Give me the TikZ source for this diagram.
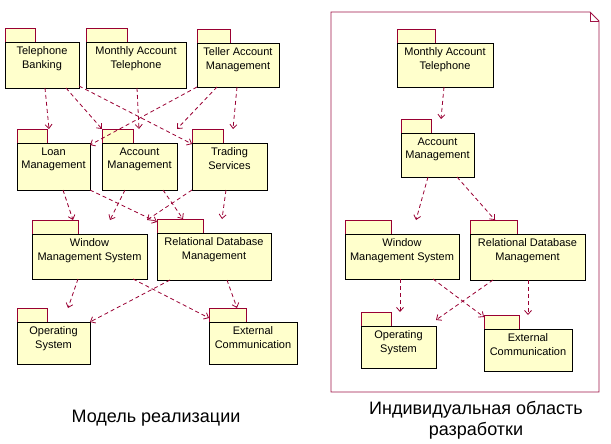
\documentclass[tikz,border=0pt]{standalone}
\usepackage{fontspec}
\setmainfont{Liberation Sans}
\usetikzlibrary{arrows.meta}
\definecolor{pkgfill}{RGB}{255,255,204}
\definecolor{depcol}{RGB}{153,0,51}
\definecolor{tabline}{RGB}{153,0,51}
\definecolor{areacol}{RGB}{160,20,70}

\tikzset{
  pkgframe/.style={draw=none, inner sep=0pt, outer sep=0pt},
  pkgtab/.style={draw=tabline, fill=pkgfill, line width=0.9pt},
  pkgbody/.style={draw=black, fill=pkgfill, line width=0.9pt},
  pkgtext/.style={anchor=north, align=center, inner sep=0pt,
                  font=\fontsize{11}{13.5}\selectfont},
  dep/.style={draw=depcol, line width=0.8pt, dash pattern=on 4pt off 3pt,
              -{Straight Barb[length=4pt,width=7pt]}},
  areaframe/.style={draw=areacol, line width=0.9pt},
  caption/.style={anchor=base, inner sep=0pt, font=\fontsize{18}{21}\selectfont}
}

% \umlpkg{name}{left}{top}{right}{bottom}{tab width}{label}
% The named node spans the whole package (tab included).
\newcommand\umlpkg[7]{%
  \pgfmathsetmacro\pkgW{#4-#2}%
  \pgfmathsetmacro\pkgH{#5-#3}%
  \pgfmathsetmacro\pkgX{(#2+#4)/2}%
  \pgfmathsetmacro\pkgY{(#3+#5)/2}%
  \node[pkgframe, minimum width=\pkgW pt, minimum height=\pkgH pt] (#1) at (\pkgX,\pkgY) {};
  \draw[pkgtab] (#1.north west) rectangle ([xshift=#6pt,yshift=-14pt]#1.north west);
  \draw[pkgbody] ([yshift=-14pt]#1.north west) rectangle (#1.south east);
  \node[pkgtext] (#1-t) at ([yshift=-18.7pt]#1.north) {#7};
}

\begin{document}
\begin{tikzpicture}[x=1pt,y=-1pt]
\useasboundingbox (0,0) rectangle (611,444);

% ---- implementation model ----
\umlpkg{tb}{5}{28}{79}{88}{30}{Telephone\\Banking}
\umlpkg{mat}{86}{28}{186}{88}{41}{Monthly Account\\Telephone}
\umlpkg{teller}{197}{29}{279}{87}{33}{Teller Account\\Management}
\umlpkg{loan}{17}{129}{90}{190}{30}{Loan\\Management}
\umlpkg{acct}{102}{129}{177}{190}{31}{Account\\Management}
\umlpkg{trade}{192}{129}{267}{190}{31}{Trading\\Services}
\umlpkg{wms}{32}{220}{147}{279}{46}{Window\\Management System}
\umlpkg{rdb}{157}{219}{271}{280}{46}{Relational Database\\Management}
\umlpkg{os}{17}{308}{90}{364}{30}{Operating\\System}
\umlpkg{ext}{209}{308}{297}{364}{37}{External\\Communication}

\draw[dep] ([xshift=40pt]tb.south west) -- ([xshift=32pt]loan.north west);
\draw[dep] ([xshift=61pt]tb.south west) -- (acct.north west);
\draw[dep] ([yshift=2pt]tb.south east) -- ([yshift=-15pt]trade.north west);
\draw[dep] ([xshift=51pt]mat.south west) -- ([xshift=37pt]acct.north west);
\draw[dep] (teller.south west) -- ([yshift=-16pt]loan.north east);
\draw[dep] ([xshift=20pt]teller.south west) -- (acct.north east);
\draw[dep] ([xshift=40pt]teller.south west) -- ([xshift=41pt]trade.north west);

\draw[dep] ([xshift=46pt]loan.south west) -- ([xshift=41pt]wms.north west);
\draw[dep] (loan.south east) -- ([yshift=-3pt]rdb.north west);
\draw[dep] ([xshift=23pt]acct.south west) -- ([xshift=78pt]wms.north west);
\draw[dep] ([xshift=61pt]acct.south west) -- ([xshift=26pt]rdb.north west);
\draw[dep] (trade.south west) -- (wms.north east);
\draw[dep] ([xshift=34pt]trade.south west) -- ([xshift=65pt]rdb.north west);

\draw[dep] ([xshift=46pt]wms.south west) -- ([xshift=51pt]os.north west);
\draw[dep] ([xshift=101pt]wms.south west) -- ([yshift=-10pt]ext.north west);
\draw[dep] ([xshift=13pt]rdb.south west) -- ([yshift=-14pt]os.north east);
\draw[dep] ([xshift=70pt]rdb.south west) -- ([xshift=28pt]ext.north west);

% ---- individual workspace ----
\draw[areaframe] (331,12) -- (590,12) -- (599,21) -- (599,392) -- (331,392) -- cycle;
\draw[areaframe] (590,12) -- (590,21) -- (599,21);

\umlpkg{mat2}{397}{29}{493}{87}{38}{Monthly Account\\Telephone}
\umlpkg{acct2}{401}{119}{474}{177}{30}{Account\\Management}
\umlpkg{wms2}{345}{220}{459}{279}{46}{Window\\Management System}
\umlpkg{rdb2}{470}{220}{585}{280}{47}{Relational Database\\Management}
\umlpkg{os2}{361}{312}{436}{368}{30}{Operating\\System}
\umlpkg{ext2}{484}{315}{572}{371}{35}{External\\Communication}

\draw[dep] ([xshift=47pt]mat2.south west) -- ([xshift=40pt]acct2.north west);
\draw[dep] ([xshift=27pt]acct2.south west) -- ([xshift=71pt]wms2.north west);
\draw[dep] ([xshift=56pt]acct2.south west) -- ([xshift=25pt]rdb2.north west);
\draw[dep] ([xshift=55pt]wms2.south west) -- ([xshift=39pt]os2.north west);
\draw[dep] ([xshift=88pt]wms2.south west) -- ([yshift=-2pt]ext2.north west);
\draw[dep] ([xshift=23pt]rdb2.south west) -- ([yshift=-8pt]os2.north east);
\draw[dep] ([xshift=58pt]rdb2.south west) -- ([xshift=44pt]ext2.north west);

% ---- captions ----
\node[caption] (cap1) at (156,422) {Модель реализации};
\node[caption] (cap2a) at (476,414) {Индивидуальная область};
\node[caption] (cap2b) at (476,435) {разработки};
\end{tikzpicture}
\end{document}
